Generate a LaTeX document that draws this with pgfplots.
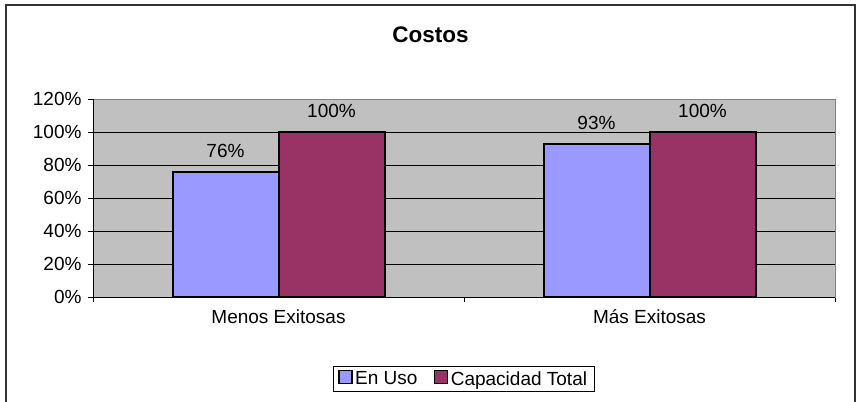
\documentclass[border=0pt]{standalone}
\usepackage{fontspec}
\setmainfont{Liberation Sans}
\usepackage{pgfplots}
\pgfplotsset{compat=1.18}
\definecolor{enuso}{HTML}{9999FF}
\definecolor{captot}{HTML}{993366}
\definecolor{plotbg}{HTML}{C0C0C0}
\definecolor{framegray}{HTML}{808080}
\newcommand{\chartfont}{\fontsize{19bp}{22bp}\selectfont}

\begin{document}
\begin{tikzpicture}[x=1bp,y=1bp]
\useasboundingbox (0,0) rectangle (857,401);
% chart border
\begin{scope}
  \clip (0,0) rectangle (857,401);
  \draw[line width=1.5bp, color=black!80] (6,-10) rectangle (855,396);
\end{scope}
\node[font=\fontsize{22.5bp}{27bp}\selectfont\bfseries, anchor=base] at (430.5,359) {Costos};
\begin{axis}[
  at={(93bp,104bp)}, anchor=south west,
  scale only axis, width=742bp, height=198bp,
  xmin=-0.5, xmax=1.5, ymin=0, ymax=120,
  ybar, bar width=106bp,
  axis background/.style={fill=plotbg},
  axis line style={draw=framegray, line width=1bp},
  /pgf/number format/assume math mode=true,
  ticklabel style={font=\chartfont},
  tick align=outside, major tick length=5bp,
  tick style={black, line width=0.8bp},
  ytick={0,20,...,120}, ytick pos=left,
  yticklabel={\pgfmathprintnumber{\tick}\%},
  yticklabel style={xshift=-3bp},
  extra y ticks={20,40,60,80,100}, extra y tick labels={},
  extra y tick style={grid=major, major tick length=0pt},
  grid style={black, line width=0.8bp},
  xtick={-0.5,0.5,1.5}, xticklabels={}, xtick pos=bottom,
  extra x ticks={0,1}, extra x tick labels={Menos Exitosas, Más Exitosas},
  extra x tick style={major tick length=0pt, xticklabel style={yshift=-9bp}},
  nodes near coords={\pgfmathprintnumber{\pgfplotspointmeta}\%},
  nodes near coords style={font=\chartfont, yshift=10bp},
  legend columns=2,
  legend style={at={(0.5,-0.414)}, anchor=center, draw=black, line width=0.8bp,
    fill=white, font=\chartfont, inner xsep=5bp, inner ysep=2bp,
    nodes={inner sep=2.5bp},
    /tikz/every even column/.append style={column sep=14bp}},
  legend image code/.code={\draw[#1, draw=black, line width=1.3bp] (0bp,-4.5bp) rectangle (13bp,8.5bp);},
]
\addplot[fill=enuso, draw=black, line width=2bp, bar shift=-53bp]
  coordinates {(0,76) (1,93)};
\addlegendentry{En Uso}
\addplot[fill=captot, draw=black, line width=2bp, bar shift=53bp]
  coordinates {(0,100) (1,100)};
\addlegendentry{Capacidad Total}
\draw[black, line width=1bp] (rel axis cs:0,1) -- (rel axis cs:0,0) -- (rel axis cs:1,0);
\end{axis}
\end{tikzpicture}
\end{document}
